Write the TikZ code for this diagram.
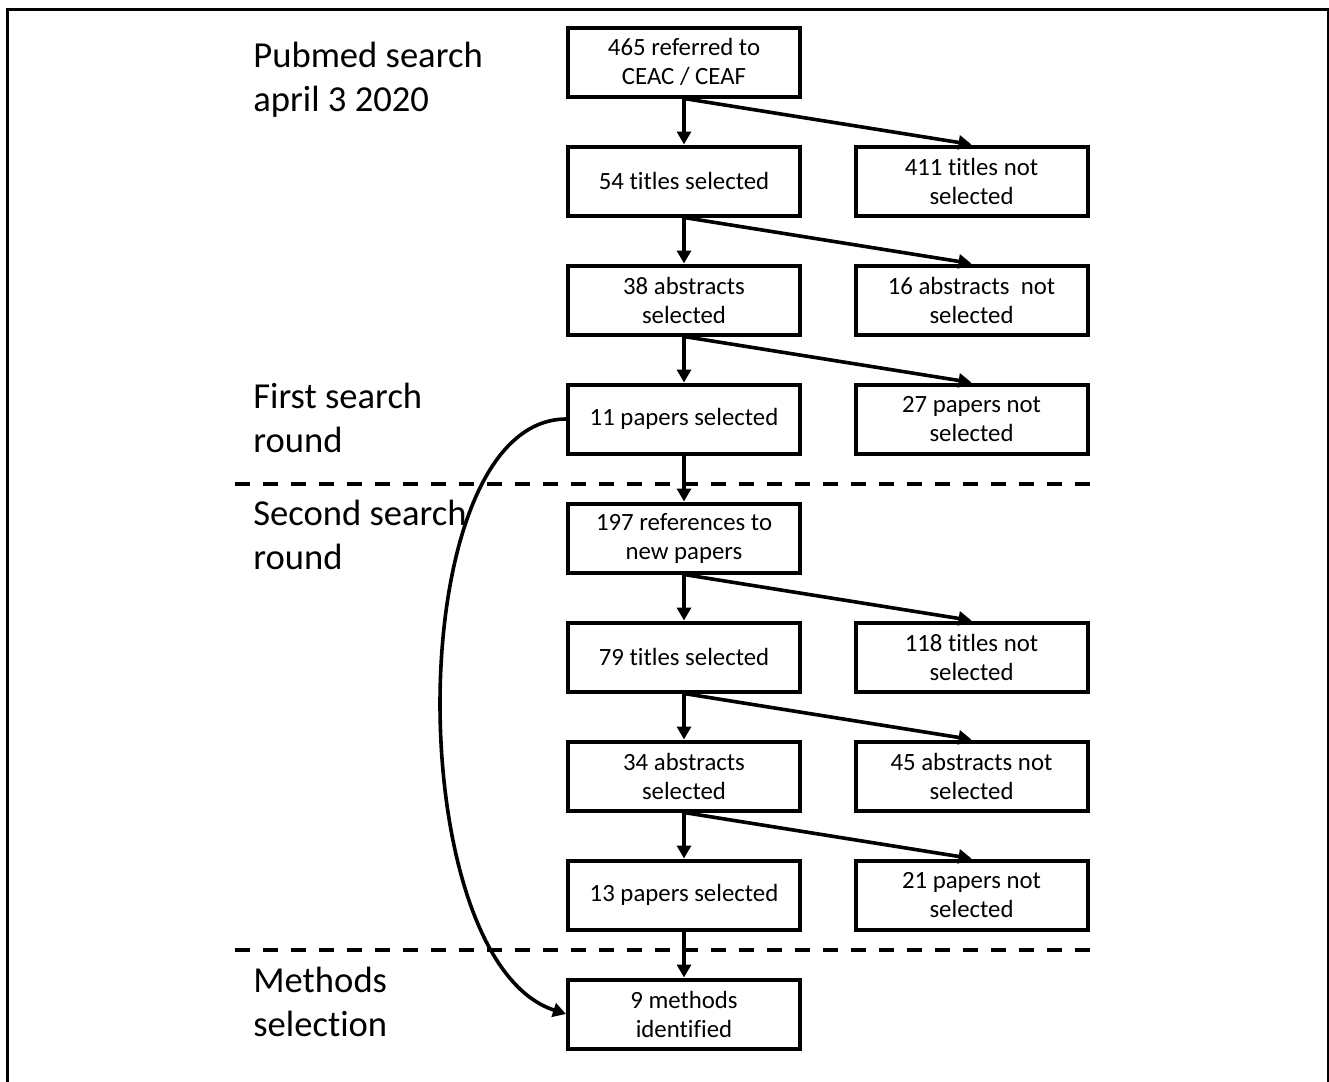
\documentclass[tikz,border=0pt]{standalone}
\usepackage{fontspec}
\setmainfont{Carlito}[Ligatures=NoCommon]
\usetikzlibrary{positioning,chains,arrows.meta}

\begin{document}
\begin{tikzpicture}[x=0.5pt,y=-0.5pt,
  every node/.style={align=center},
  box/.style={draw,line width=2pt,minimum width=116pt,minimum height=34.5pt,
    inner sep=2pt,font=\fontsize{12.4}{14.5}\selectfont},
  phase/.style={anchor=west,align=left,inner sep=0pt,
    font=\fontsize{18.3}{22}\selectfont},
  arr/.style={line width=1.8pt,-{Triangle[length=6.5pt,width=7pt]}},
  sep/.style={line width=2pt,dash pattern=on 7.5pt off 6.5pt}
]
\useasboundingbox (0,0) rectangle (1329,1082);
\draw[line width=1.5pt] (7,1082) -- (7,9) -- (1328,9) -- (1328,1082);

% Selected
\begin{scope}[start chain=going below,node distance=23pt]
\node[box,on chain,at={(684,62)}] (s1) {465 referred to\\CEAC / CEAF};
\node[box,on chain] (s2) {54 titles selected};
\node[box,on chain] (s3) {38 abstracts\\selected};
\node[box,on chain] (s4) {11 papers selected};
\node[box,on chain] (s5) {197 references to\\new papers};
\node[box,on chain] (s6) {79 titles selected};
\node[box,on chain] (s7) {34 abstracts\\selected};
\node[box,on chain] (s8) {13 papers selected};
\node[box,on chain] (s9) {9 methods\\identified};
\end{scope}

% Not selected
\begin{scope}[node distance=25.75pt]
\node[box,right=of s2] (n2) {411 titles not\\selected};
\node[box,right=of s3] (n3) {16 abstracts~ not\\selected};
\node[box,right=of s4] (n4) {27 papers not\\selected};
\node[box,right=of s6] (n6) {118 titles not\\selected};
\node[box,right=of s7] (n7) {45 abstracts not\\selected};
\node[box,right=of s8] (n8) {21 papers not\\selected};
\end{scope}

% Phases
\node[phase] (p1) at (253,80) {Pubmed search\\april 3 2020};
\node[phase] (p2) at (253,418) {First search\\round};
\node[phase] (p3) at (253,535) {Second search\\round};
\node[phase] (p4) at (253,1002) {Methods\\selection};
\draw[sep] (235,484) -- (1100,484);
\draw[sep] (235,950) -- (1100,950);

% Edges
\foreach \i [evaluate=\i as \j using int(\i+1)] in {1,...,8}
  \draw[arr] (s\i) -- (s\j);
\draw[arr] (s1.south) -- (n2.north);
\draw[arr] (s2.south) -- (n3.north);
\draw[arr] (s3.south) -- (n4.north);
\draw[arr] (s5.south) -- (n6.north);
\draw[arr] (s6.south) -- (n7.north);
\draw[arr] (s7.south) -- (n8.north);
\draw[arr] (s4.west) .. controls (400,420) and (400,960) .. (s9.west);
\end{tikzpicture}
\end{document}
